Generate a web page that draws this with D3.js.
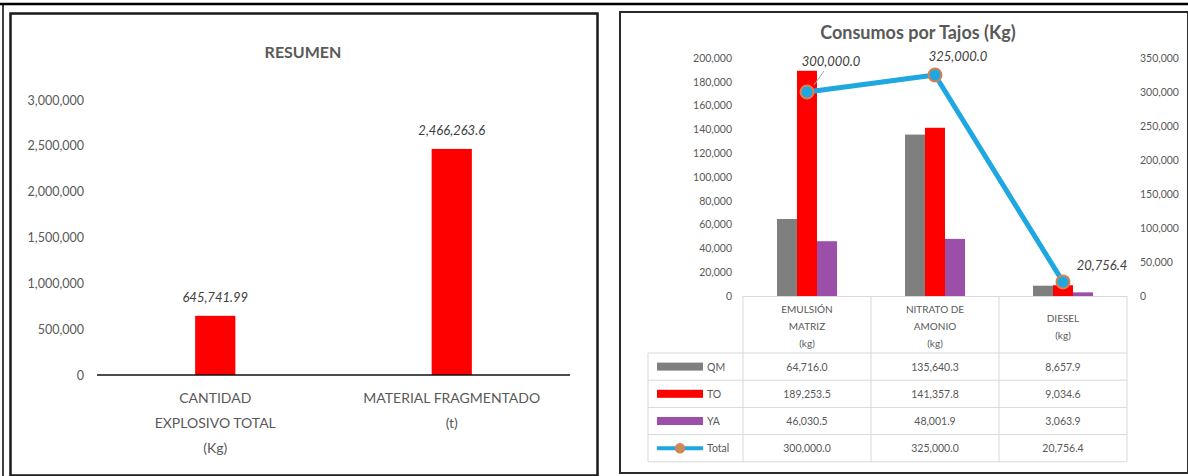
<!DOCTYPE html>
<html>
<head>
<meta charset="utf-8">
<script src="https://cdn.jsdelivr.net/npm/d3@7/dist/d3.min.js"></script>
<style>
  html, body { margin: 0; padding: 0; background: #fff; }
  svg { display: block; font-family: Lato, "Open Sans", sans-serif; }
</style>
</head>
<body>
<svg id="chart" width="1188" height="476"></svg>
<script>
// ---- Resumen (left panel) ----
const resumenCats = [["CANTIDAD", "EXPLOSIVO TOTAL", "(Kg)"], ["MATERIAL FRAGMENTADO", "(t)"]];
const resumenValues = [645741.99, 2466263.6];
const resumenLabels = ["645,741.99", "2,466,263.6"];
const resumenTicks = [0, 500000, 1000000, 1500000, 2000000, 2500000, 3000000];

// ---- Consumos por Tajos (right panel) ----
const tajoCats = ["EMULSION", "NITRATO", "DIESEL"];
const tajoHeaders = [["EMULSIÓN", "MATRIZ", "(kg)"], ["NITRATO DE", "AMONIO", "(kg)"], ["DIESEL", "(kg)"]];
const seriesNames = ["QM", "TO", "YA"];
const qmValues = [64716.0, 135640.3, 8657.9];
const toValues = [189253.5, 141357.8, 9034.6];
const yaValues = [46030.5, 48001.9, 3063.9];
const totalValues = [300000.0, 325000.0, 20756.4];
const leftTicks = [0, 20000, 40000, 60000, 80000, 100000, 120000, 140000, 160000, 180000, 200000];
const rightTicks = [0, 50000, 100000, 150000, 200000, 250000, 300000, 350000];

const seriesColors = { QM: "#7f7f7f", TO: "#ff0000", YA: "#9b4fa8" };
const lineColor = "#1ea7e1";
const markerStroke = "#d9824f";
const textGray = "#595959";
const labelGray = "#404040";
const gridGray = "#d9d9d9";

const svg = d3.select("#chart");
svg.append("rect").attr("width", 1188).attr("height", 476).attr("fill", "#fff");

// Frames
svg.append("line").attr("x1", 0).attr("x2", 1188).attr("y1", 4).attr("y2", 4)
  .attr("stroke", "#000").attr("stroke-width", 2.5);
svg.append("line").attr("x1", 3).attr("x2", 3).attr("y1", 4).attr("y2", 476)
  .attr("stroke", "#000").attr("stroke-width", 1.5);
svg.append("rect").attr("x", 10.5).attr("y", 13.5).attr("width", 587).attr("height", 462)
  .attr("fill", "none").attr("stroke", "#1a1a1a").attr("stroke-width", 2.5);
svg.append("rect").attr("x", 620).attr("y", 12).attr("width", 568).attr("height", 461)
  .attr("fill", "none").attr("stroke", "#2a2a2a").attr("stroke-width", 2);

// ===== Left chart =====
const L = svg.append("g");
L.append("text").attr("x", 303).attr("y", 58).attr("text-anchor", "middle")
  .attr("font-size", 16).attr("font-weight", "bold").attr("fill", textGray).text("RESUMEN");

const lx = d3.scaleBand().domain(d3.range(resumenValues.length)).range([97, 570])
  .paddingInner(0.83).paddingOuter(0.415);
const ly = d3.scaleLinear().domain([0, 3000000]).range([375, 100]);

const lAxis = L.append("g").attr("transform", "translate(90,0)")
  .call(d3.axisLeft(ly).tickValues(resumenTicks).tickSize(0).tickPadding(6).tickFormat(d3.format(",")));
lAxis.select(".domain").remove();
lAxis.selectAll("text").attr("font-size", 12.5).attr("fill", textGray).attr("font-family", "Lato, sans-serif");

L.selectAll("rect.bar").data(resumenValues).join("rect").attr("class", "bar")
  .attr("x", (d, i) => lx(i)).attr("width", lx.bandwidth())
  .attr("y", d => ly(d)).attr("height", d => ly(0) - ly(d)).attr("fill", "#ff0000");

L.append("line").attr("x1", 97).attr("x2", 570).attr("y1", ly(0)).attr("y2", ly(0))
  .attr("stroke", "#111").attr("stroke-width", 1.5);

L.selectAll("text.dl").data(resumenValues).join("text").attr("class", "dl")
  .attr("x", (d, i) => lx(i) + lx.bandwidth() / 2).attr("y", d => ly(d) - 14)
  .attr("text-anchor", "middle").attr("font-size", 13).attr("font-style", "italic")
  .attr("fill", labelGray).text((d, i) => resumenLabels[i]);

resumenCats.forEach((lines, i) => {
  lines.forEach((t, k) => {
    L.append("text").attr("x", lx(i) + lx.bandwidth() / 2).attr("y", 403 + k * 25)
      .attr("text-anchor", "middle").attr("font-size", 14).attr("fill", textGray).text(t);
  });
});

// ===== Right chart =====
const R = svg.append("g");
R.append("text").attr("x", 918).attr("y", 39).attr("text-anchor", "middle")
  .attr("font-size", 18).attr("font-weight", "bold").attr("fill", textGray).text("Consumos por Tajos (Kg)");

const rx = d3.scaleBand().domain(tajoCats).range([743, 1127]).padding(0);
const rsub = d3.scaleBand().domain(seriesNames).range([0, rx.bandwidth()]).paddingInner(0).paddingOuter(1.7);
const ryL = d3.scaleLinear().domain([0, 200000]).range([296, 58]);
const ryR = d3.scaleLinear().domain([0, 350000]).range([296, 58]);

const axL = R.append("g").attr("transform", "translate(738,0)")
  .call(d3.axisLeft(ryL).tickValues(leftTicks).tickSize(0).tickPadding(6).tickFormat(d3.format(",")));
axL.select(".domain").remove();
axL.selectAll("text").attr("font-size", 10.5).attr("fill", textGray).attr("font-family", "Lato, sans-serif");

const axR = R.append("g").attr("transform", "translate(1134,0)")
  .call(d3.axisRight(ryR).tickValues(rightTicks).tickSize(0).tickPadding(6).tickFormat(d3.format(",")));
axR.select(".domain").remove();
axR.selectAll("text").attr("font-size", 10.5).attr("fill", textGray).attr("font-family", "Lato, sans-serif");

const seriesData = { QM: qmValues, TO: toValues, YA: yaValues };
seriesNames.forEach(s => {
  R.selectAll("rect.b" + s).data(seriesData[s]).join("rect").attr("class", "b" + s)
    .attr("x", (d, i) => rx(tajoCats[i]) + rsub(s)).attr("width", rsub.bandwidth())
    .attr("y", d => ryL(d)).attr("height", d => ryL(0) - ryL(d)).attr("fill", seriesColors[s]);
});

// Total line on secondary axis
const cx = (d, i) => rx(tajoCats[i]) + rx.bandwidth() / 2;
const line = d3.line().x(cx).y(d => ryR(d));
R.append("path").datum(totalValues).attr("d", line).attr("fill", "none")
  .attr("stroke", lineColor).attr("stroke-width", 5).attr("stroke-linejoin", "round");

// leader line for the first label
R.append("line").attr("x1", cx(0, 0) + 7).attr("y1", ryR(totalValues[0]) - 7)
  .attr("x2", cx(0, 0) + 17).attr("y2", ryR(totalValues[0]) - 21)
  .attr("stroke", "#a6a6a6").attr("stroke-width", 1);

R.selectAll("circle.m").data(totalValues).join("circle").attr("class", "m")
  .attr("cx", cx).attr("cy", d => ryR(d)).attr("r", 6.5)
  .attr("fill", lineColor).attr("stroke", markerStroke).attr("stroke-width", 2);

const labelOffsets = [[24, -26], [23, -14], [39, -12]];
R.selectAll("text.tl").data(totalValues).join("text").attr("class", "tl")
  .attr("x", (d, i) => cx(d, i) + labelOffsets[i][0]).attr("y", (d, i) => ryR(d) + labelOffsets[i][1])
  .attr("text-anchor", "middle").attr("font-size", 13).attr("font-style", "italic")
  .attr("fill", labelGray).text(d => d3.format(",.1f")(d));

// Data table
const tableLeft = 648, rowTop = 353, rowH = 27.2;
const tbl = R.append("g").attr("stroke", gridGray).attr("stroke-width", 1);
tbl.append("line").attr("x1", 743).attr("x2", 1127).attr("y1", 296.5).attr("y2", 296.5);
d3.range(5).forEach(k => {
  tbl.append("line").attr("x1", tableLeft).attr("x2", 1127)
    .attr("y1", rowTop + k * rowH).attr("y2", rowTop + k * rowH);
});
tbl.append("line").attr("x1", tableLeft).attr("x2", tableLeft).attr("y1", rowTop).attr("y2", rowTop + 4 * rowH);
[743, 871, 999, 1127].forEach(x => {
  tbl.append("line").attr("x1", x).attr("x2", x).attr("y1", 296).attr("y2", rowTop + 4 * rowH);
});

tajoHeaders.forEach((lines, i) => {
  const c = rx(tajoCats[i]) + rx.bandwidth() / 2;
  const start = 313 + (3 - lines.length) * 8.5;
  lines.forEach((t, k) => {
    R.append("text").attr("x", c).attr("y", start + k * 17).attr("text-anchor", "middle")
      .attr("font-size", 10).attr("fill", textGray).text(t);
  });
});

const rows = [
  { name: "QM", values: qmValues },
  { name: "TO", values: toValues },
  { name: "YA", values: yaValues },
  { name: "Total", values: totalValues }
];
rows.forEach((r, k) => {
  const yc = rowTop + k * rowH + rowH / 2;
  if (r.name === "Total") {
    R.append("line").attr("x1", 657).attr("x2", 703).attr("y1", yc).attr("y2", yc)
      .attr("stroke", lineColor).attr("stroke-width", 4);
    R.append("circle").attr("cx", 680).attr("cy", yc).attr("r", 4.5)
      .attr("fill", "#c98a5c").attr("stroke", markerStroke).attr("stroke-width", 1.5);
  } else {
    R.append("rect").attr("x", 657).attr("y", yc - 4).attr("width", 46).attr("height", 8)
      .attr("fill", seriesColors[r.name]);
  }
  R.append("text").attr("x", 707).attr("y", yc + 4).attr("font-size", 10.5)
    .attr("fill", textGray).text(r.name);
  r.values.forEach((v, i) => {
    R.append("text").attr("x", rx(tajoCats[i]) + rx.bandwidth() / 2).attr("y", yc + 4)
      .attr("text-anchor", "middle").attr("font-size", 10.5).attr("fill", textGray)
      .text(d3.format(",.1f")(v));
  });
});
</script>
</body>
</html>
